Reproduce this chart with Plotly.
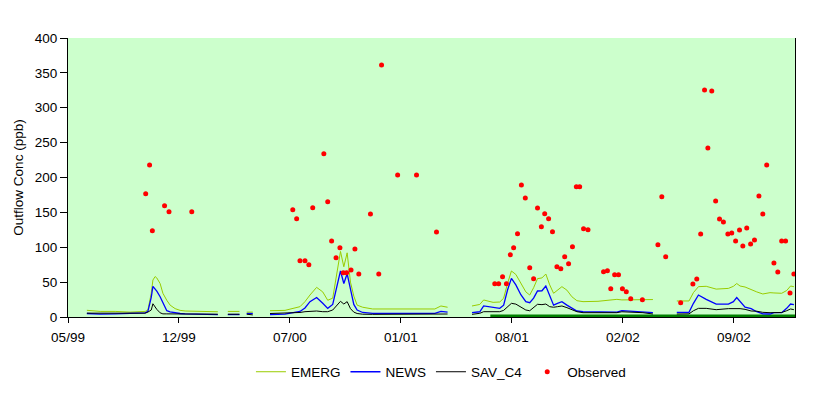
import plotly.graph_objects as go

# ---------------- data ----------------
# model output segments (gaps between segments = no model output)
dates_A1 = ["1999-06-28", "1999-07-22", "1999-08-18", "1999-09-14", "1999-10-11", "1999-10-16",
            "1999-10-22", "1999-10-25", "1999-10-29", "1999-11-01", "1999-11-07", "1999-11-12",
            "1999-11-19", "1999-11-25", "1999-12-04", "1999-12-13", "1999-12-22", "2000-01-09",
            "2000-01-27", "2000-02-19"]
emerg_A1 = [9.6, 8, 8, 7, 8, 10, 34, 53, 58, 56, 48, 34, 24, 17, 12, 9.5, 8.6, 8.5, 8.3, 7.5]
news_A1 = [5, 4, 4.5, 5, 6, 8, 28, 44, 40, 37, 29, 20, 9, 7.5, 6, 5, 4.5, 4, 3.5, 3.5]
sav_A1 = [5.5, 5.3, 5.3, 5.3, 5.5, 7, 10, 19, 14, 11, 6, 4.5, 4.5, 4.5, 4.3, 4.3, 4.3, 4, 4, 4]

dates_A2 = ["2000-03-08", "2000-03-29"]
emerg_A2 = [8, 8]
news_A2 = [3.5, 3.5]
sav_A2 = [4, 4]

dates_A3 = ["2000-04-11", "2000-04-22"]
emerg_A3 = [7, 7]
news_A3 = [5, 5]
sav_A3 = [4, 3]

dates_B = ["2000-05-23", "2000-06-19", "2000-07-16", "2000-07-25", "2000-08-03", "2000-08-15",
           "2000-08-26", "2000-09-04", "2000-09-13", "2000-09-20", "2000-09-27", "2000-10-03",
           "2000-10-09", "2000-10-15", "2000-10-21", "2000-10-27", "2000-11-06", "2000-11-24",
           "2001-01-12", "2001-03-16", "2001-03-27", "2001-04-08"]
emerg_B = [9, 9.5, 14.8, 22, 31.5, 42.5, 36, 24, 27, 58, 94, 72, 92, 50, 30, 17, 14, 11.5,
           11.5, 11.5, 15.8, 14]
news_B = [3.5, 4, 8, 13, 22, 28, 19.6, 12.4, 18, 40, 66, 48, 62, 40, 18, 10, 6.5, 5.3,
          5.3, 5.3, 8, 7]
sav_B = [5, 5.3, 6.5, 7.6, 8.3, 8.6, 7.6, 7.6, 10, 16, 22.5, 18.6, 22, 12, 7, 5, 4, 3.8,
         3.8, 3.8, 4.3, 4.3]

dates_C = ["2001-05-22", "2001-06-05", "2001-06-12", "2001-06-29", "2001-07-11", "2001-07-18",
           "2001-07-25", "2001-08-01", "2001-08-09", "2001-08-18", "2001-08-27", "2001-09-03",
           "2001-09-10", "2001-09-17", "2001-09-25", "2001-10-02", "2001-10-09", "2001-10-16",
           "2001-10-23", "2001-10-31", "2001-11-09", "2001-11-18", "2001-11-27", "2001-12-08",
           "2002-01-04", "2002-01-31", "2002-02-07", "2002-02-16", "2002-03-26", "2002-04-13"]
emerg_C = [15.8, 18, 24.4, 21, 21.5, 27, 48, 66, 61, 48, 36, 31.5, 42, 55, 56, 61.6, 46, 34,
           39, 43.5, 38.5, 29, 23.4, 22, 22.5, 24, 25.3, 24.5, 24.5, 25]
news_C = [6.2, 7.5, 15.8, 13.4, 12.5, 17, 38.7, 55.4, 46, 32, 22, 20.5, 27, 37.3, 37.6, 44.4,
          31.5, 17, 19.6, 22, 17, 12.4, 8.6, 7.6, 7.6, 7.6, 7, 9, 7.6, 6.2]
sav_C = [3.8, 5.3, 7.6, 7.6, 7.6, 9.5, 14, 19.6, 18.5, 14, 10, 9, 13, 18.2, 17.7, 18.6, 14.8,
         14, 14.8, 15.8, 13.4, 10, 7.6, 6.2, 6.2, 6.2, 6.2, 7.5, 6.2, 4.3]

dates_D = ["2002-05-26", "2002-06-17", "2002-06-25", "2002-07-04", "2002-07-18", "2002-08-05",
           "2002-08-27", "2002-09-05", "2002-09-11", "2002-09-17", "2002-09-26", "2002-10-07",
           "2002-10-17", "2002-10-28", "2002-11-10", "2002-11-17", "2002-12-01", "2002-12-10",
           "2002-12-17", "2002-12-23"]
emerg_D = [23, 23, 35, 43.5, 44, 40, 41, 44, 48, 44.4, 43, 39, 36, 33, 34.9, 34.5, 34, 38,
           44.4, 43.5]
news_D = [6.7, 6.7, 19.6, 31.5, 25.3, 18.6, 18.6, 22, 28, 22, 14, 12, 7.6, 4.5, 4.3, 6.2,
          6.2, 12.4, 18.6, 17.6]
sav_D = [4.3, 4.5, 9, 12.4, 12.4, 10.5, 12, 12.4, 12.4, 12, 11, 8.6, 8.3, 6.7, 6.2, 6.2,
         6.5, 9, 11.5, 10.5]

obs_dates = ["1999-10-12", "1999-10-19", "1999-10-24", "1999-11-15", "1999-11-23", "2000-01-03",
             "2000-07-03", "2000-07-10", "2000-07-16", "2000-07-25", "2000-08-01", "2000-08-08",
             "2000-08-28", "2000-09-04", "2000-09-11", "2000-09-19", "2000-09-26", "2000-10-02",
             "2000-10-08", "2000-10-16", "2000-10-23", "2000-10-30", "2000-11-20", "2000-12-05",
             "2000-12-10", "2001-01-08", "2001-02-11", "2001-03-19",
             "2001-07-02", "2001-07-09", "2001-07-16", "2001-07-23", "2001-07-30", "2001-08-05",
             "2001-08-12", "2001-08-19", "2001-08-26", "2001-09-03", "2001-09-10", "2001-09-17",
             "2001-09-24", "2001-09-30", "2001-10-07", "2001-10-14", "2001-10-22", "2001-10-29",
             "2001-11-05", "2001-11-12", "2001-11-19", "2001-11-26", "2001-12-02", "2001-12-09",
             "2001-12-17", "2002-01-14", "2002-01-21", "2002-01-27", "2002-02-03", "2002-02-10",
             "2002-02-17", "2002-02-24", "2002-03-04", "2002-03-25", "2002-04-22", "2002-04-29",
             "2002-05-06", "2002-06-02", "2002-06-24", "2002-07-01", "2002-07-08", "2002-07-15",
             "2002-07-21", "2002-07-28", "2002-08-04", "2002-08-11", "2002-08-18", "2002-08-26",
             "2002-09-02", "2002-09-09", "2002-09-16", "2002-09-22", "2002-09-29", "2002-10-06",
             "2002-10-13", "2002-10-21", "2002-10-28", "2002-11-04", "2002-11-17", "2002-11-24",
             "2002-12-01", "2002-12-08", "2002-12-16", "2002-12-23"]
obs_values = [176.8, 217.9, 123.7, 159.6, 151, 151,
              153.9, 141, 80.7, 80.7, 75, 156.8,
              234.1, 165.4, 109, 85, 99.4, 63.6,
              63.6, 67.4, 97.5, 61.6, 147.7, 61.6,
              361.3, 203.6, 203.6, 121.9,
              47.7, 47.7, 57.8, 47.7, 89.3, 99.4,
              119.4, 189.2, 170.6, 70.7, 54.9, 156.3,
              129.5, 148.1, 141, 122.3, 72.1, 69.2,
              86.5, 76.4, 100.8, 186.9, 186.9, 126.6,
              125.2, 65, 66.4, 40.6, 60.6, 60.6,
              40.6, 36.3, 26.2, 24.8, 103.7, 172.5,
              86.5, 20.3, 47.3, 54.5, 119, 325.4,
              242.3, 324, 166.3, 140.5, 136.2, 119,
              120.4, 109, 124.7, 101.8, 127.6, 104.7,
              110.4, 173.5, 147.7, 217.9, 77.4, 64.5,
              109, 109, 34.4, 61.6]

# period flag shown as a dark green band on the zero line
flag_dates = ["2001-06-24", "2002-12-25"]
flag_values = [0, 0]

axis_start = "1999-05-25"
axis_end = "2002-12-25"
x_tick_dates = ["1999-05-25", "1999-12-11", "2000-06-28", "2001-01-14",
                "2001-08-02", "2002-02-18", "2002-09-06"]
x_tick_labels = ["05/99", "12/99", "07/00", "01/01", "08/01", "02/02", "09/02"]
y_ticks = [0, 50, 100, 150, 200, 250, 300, 350, 400]

# ---------------- assemble segments ----------------
segments = [
    (dates_A1, emerg_A1, news_A1, sav_A1),
    (dates_A2, emerg_A2, news_A2, sav_A2),
    (dates_A3, emerg_A3, news_A3, sav_A3),
    (dates_B, emerg_B, news_B, sav_B),
    (dates_C, emerg_C, news_C, sav_C),
    (dates_D, emerg_D, news_D, sav_D),
]
xs, e_all, n_all, s_all = [], [], [], []
for i, (d, e, n, s) in enumerate(segments):
    if i > 0:
        xs.append(None); e_all.append(None); n_all.append(None); s_all.append(None)
    xs += d; e_all += e; n_all += n; s_all += s

FONT = "Arial, Liberation Sans, sans-serif"

fig = go.Figure()
fig.add_trace(go.Scatter(x=flag_dates, y=flag_values, mode="lines",
                         line=dict(color="#008000", width=5), showlegend=False,
                         hoverinfo="skip"))
fig.add_trace(go.Scatter(x=xs, y=e_all, mode="lines", name="EMERG",
                         line=dict(color="#99CC00", width=1), connectgaps=False))
fig.add_trace(go.Scatter(x=xs, y=n_all, mode="lines", name="NEWS",
                         line=dict(color="#0000FF", width=1.3), connectgaps=False))
fig.add_trace(go.Scatter(x=xs, y=s_all, mode="lines", name="SAV_C4",
                         line=dict(color="#000000", width=1), connectgaps=False))
fig.add_trace(go.Scatter(x=obs_dates, y=obs_values, mode="markers", name="Observed",
                         marker=dict(color="#FF0000", size=5, symbol="circle")))

# the page body adds an 8px margin, so the figure is sized/offset to compensate
fig.update_layout(
    width=812, height=379,
    margin=dict(l=60, r=25, t=30, b=70, autoexpand=False),
    paper_bgcolor="white",
    plot_bgcolor="#CCFFCC",
    font=dict(family=FONT, size=13, color="#000000"),
    showlegend=True,
    legend=dict(orientation="h", x=0.513, xanchor="center", y=-0.197, yanchor="middle",
                font=dict(family=FONT, size=13.5), bgcolor="rgba(0,0,0,0)",
                itemwidth=30, tracegroupgap=0),
)
fig.update_xaxes(
    type="date", range=[axis_start, axis_end],
    tickmode="array", tickvals=x_tick_dates, ticktext=x_tick_labels,
    showgrid=False, zeroline=False,
    showline=True, linecolor="black", linewidth=1,
    ticks="outside", ticklen=5, tickcolor="black", ticklabelstandoff=3,
    tickfont=dict(family=FONT, size=13.5), layer="below traces",
)
fig.update_yaxes(
    range=[0, 400], tickvals=y_ticks,
    showgrid=False, zeroline=False,
    showline=True, linecolor="black", linewidth=1, mirror=True,
    ticks="outside", ticklen=7, tickcolor="black",
    tickfont=dict(family=FONT, size=13.5),
    title=dict(text="Outflow Conc (ppb)", font=dict(family=FONT, size=13.5), standoff=8),
)

fig.write_html("out.html")
